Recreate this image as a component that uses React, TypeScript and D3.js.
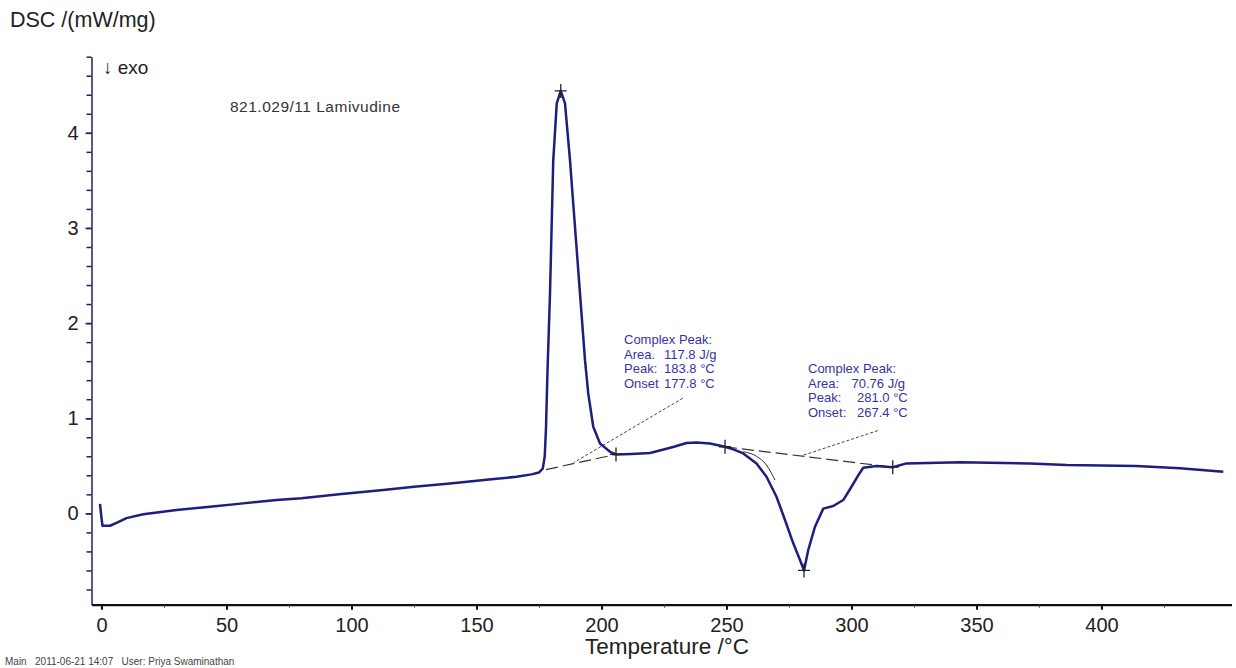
import { useEffect, useRef } from "react";
import * as d3 from "d3";

// DSC trace of 821.029/11 Lamivudine (temperature in °C, DSC in mW/mg)
const temps = [
  -0.6, 0.0, 0.4, 3.4, 6, 10, 16.7, 30, 43.4, 56.7, 70, 80, 95, 112.7, 125, 139.4, 155, 166, 172, 175,
  176.5, 177.3, 177.8, 178.4, 179.4, 180.7, 182.1, 183.7, 185.4, 187.4, 189.4, 191.4, 193.4, 194.7,
  196.7, 199.4, 203.4, 205.8, 212, 219.4, 226, 229, 234, 238, 243.4, 249.4, 253, 256.7, 262, 266, 270,
  273.4, 276.7, 279.4, 281.0, 282.7, 285.4, 288.7, 292.7, 296.7, 300, 302.7, 304.7, 310, 316.5, 322,
  343.4, 371.4, 386, 414, 431.4, 448.7,
];
const dsc = [
  0.1, -0.05, -0.13, -0.13, -0.1, -0.05, -0.01, 0.035, 0.07, 0.105, 0.14, 0.16, 0.2, 0.245, 0.28, 0.315,
  0.355, 0.385, 0.41, 0.43, 0.47, 0.6, 0.9, 1.5, 2.31, 3.71, 4.31, 4.44, 4.31, 3.71, 3.01, 2.31, 1.61,
  1.26, 0.91, 0.735, 0.647, 0.62, 0.625, 0.635, 0.68, 0.7, 0.74, 0.745, 0.735, 0.7, 0.67, 0.63, 0.525,
  0.385, 0.175, -0.07, -0.315, -0.49, -0.6, -0.385, -0.14, 0.05, 0.077, 0.14, 0.28, 0.4, 0.48, 0.497,
  0.485, 0.525, 0.536, 0.525, 0.508, 0.497, 0.473, 0.437,
];

// evaluation marks (+)
const markT = [183.7, 205.8, 249.4, 281.0, 316.5];
const markV = [4.44, 0.62, 0.7, -0.6, 0.485];

// integration baselines [T1, v1, T2, v2]
const baselines = [
  [177.8, 0.46, 205.8, 0.62],
  [249.4, 0.7, 316.5, 0.485],
];
// leader lines from the result boxes
const leaders = [
  [232.5, 1.21, 189.0, 0.535],
  [310.5, 0.87, 280.6, 0.61],
];
// sigmoid tangent of the second peak
const tangentT = [256.7, 262, 266, 269.4];
const tangentV = [0.648, 0.6, 0.508, 0.35];

const xTicks = [0, 50, 100, 150, 200, 250, 300, 350, 400];
const yTicks = [0, 1, 2, 3, 4];

const box1 = [
  ["Complex Peak:", ""],
  ["Area.", "117.8 J/g"],
  ["Peak:", "183.8 °C"],
  ["Onset", "177.8 °C"],
];
const box2 = [
  ["Complex Peak:", ""],
  ["Area:", "70.76 J/g"],
  ["Peak:", "281.0 °C"],
  ["Onset:", "267.4 °C"],
];

const width = 1236;
const height = 668;

export default function App() {
  const ref = useRef<SVGSVGElement>(null);

  useEffect(() => {
    const svg = d3.select(ref.current);
    svg.selectAll("*").remove();

    const x = d3.scaleLinear([-4, 452], [91.5, 1231.5]);
    const y = d3.scaleLinear([-0.96, 4.8], [604.7, 56.7]);

    const font = "Liberation Sans, Arial, sans-serif";

    // y axis with minor ticks every 0.2
    svg.append("g")
        .attr("transform", `translate(${x(-4)},0)`)
        .call(d3.axisLeft(y).tickValues(d3.range(-0.8, 4.81, 0.2)).tickSize(5).tickSizeOuter(0).tickFormat(() => ""))
        .call(g => g.select(".domain").attr("stroke", "#1f1f6e").attr("stroke-width", 1.5))
        .call(g => g.selectAll(".tick line").attr("stroke", "#1f1f6e").attr("stroke-width", 1.5));
    svg.append("g")
        .attr("transform", `translate(${x(-4)},0)`)
        .call(d3.axisLeft(y).tickValues(yTicks).tickSize(6).tickPadding(7).tickSizeOuter(0).tickFormat(d3.format("d")))
        .call(g => g.select(".domain").remove())
        .call(g => g.selectAll(".tick line").attr("stroke", "#1f1f6e").attr("stroke-width", 1.5))
        .call(g => g.selectAll(".tick text").attr("font-family", font).attr("font-size", 20).attr("fill", "#222"));

    // x axis with minor ticks every 25
    svg.append("g")
        .attr("transform", `translate(0,${y(-0.96)})`)
        .call(d3.axisBottom(x).tickValues(d3.range(25, 451, 50)).tickSize(3).tickSizeOuter(0).tickFormat(() => ""))
        .call(g => g.select(".domain").attr("stroke", "#111").attr("stroke-width", 2.2))
        .call(g => g.selectAll(".tick line").attr("stroke", "#444"));
    svg.append("g")
        .attr("transform", `translate(0,${y(-0.96)})`)
        .call(d3.axisBottom(x).tickValues(xTicks).tickSize(5).tickPadding(8).tickSizeOuter(0))
        .call(g => g.select(".domain").remove())
        .call(g => g.selectAll(".tick line").attr("stroke", "#111").attr("stroke-width", 2))
        .call(g => g.selectAll(".tick text").attr("font-family", font).attr("font-size", 20).attr("fill", "#222"));

    // titles
    svg.append("text").attr("x", 10).attr("y", 27).attr("font-family", font).attr("font-size", 21.5)
        .attr("fill", "#222").text("DSC /(mW/mg)");
    svg.append("text").attr("x", 103).attr("y", 74).attr("font-family", font).attr("font-size", 19)
        .attr("fill", "#222").text("↓ exo");
    svg.append("text").attr("x", 585).attr("y", 654).attr("font-family", font).attr("font-size", 22.5)
        .attr("fill", "#222").text("Temperature /°C");
    svg.append("text").attr("x", 230).attr("y", 112).attr("font-family", font).attr("font-size", 15.5)
        .attr("letter-spacing", 0.5).attr("fill", "#333").text("821.029/11 Lamivudine");
    svg.append("text").attr("x", 5).attr("y", 665).attr("font-family", font).attr("font-size", 10)
        .attr("fill", "#444").attr("xml:space", "preserve").text("Main   2011-06-21 14:07   User: Priya Swaminathan");

    // baselines, tangent and leaders
    svg.append("g").selectAll("line").data(baselines).join("line")
        .attr("x1", d => x(d[0])).attr("y1", d => y(d[1]))
        .attr("x2", d => x(d[2])).attr("y2", d => y(d[3]))
        .attr("stroke", "#333").attr("stroke-width", 1.2).attr("stroke-dasharray", "12,5");
    svg.append("g").selectAll("line").data(leaders).join("line")
        .attr("x1", d => x(d[0])).attr("y1", d => y(d[1]))
        .attr("x2", d => x(d[2])).attr("y2", d => y(d[3]))
        .attr("stroke", "#444").attr("stroke-width", 1).attr("stroke-dasharray", "3,2");
    const tline = d3.line<number>().x(d => x(tangentT[d])).y(d => y(tangentV[d])).curve(d3.curveMonotoneX);
    svg.append("path").attr("d", tline(d3.range(tangentT.length)))
        .attr("fill", "none").attr("stroke", "#333").attr("stroke-width", 1);

    // DSC curve
    const line = d3.line<number>().x(i => x(temps[i])).y(i => y(dsc[i]));
    svg.append("path").attr("d", line(d3.range(temps.length)))
        .attr("fill", "none").attr("stroke", "#1e1e7c").attr("stroke-width", 2.5)
        .attr("stroke-linejoin", "round");

    // + marks
    svg.append("g").selectAll("path").data(markT).join("path")
        .attr("d", (d, i) => {
          const cx = x(d), cy = y(markV[i]);
          return `M${cx - 6},${cy}H${cx + 6}M${cx},${cy - 7}V${cy + 7}`;
        })
        .attr("stroke", "#222").attr("stroke-width", 1.3);

    // result boxes
    const boxes = [
      { rows: box1, x0: 624, x1: 664, y0: 344, right: false },
      { rows: box2, x0: 808, x1: 905, y0: 373, right: true },
    ];
    boxes.forEach(b => {
      const g = svg.append("g").attr("font-family", font).attr("font-size", 13).attr("fill", "#3434a4");
      b.rows.forEach((r, i) => {
        g.append("text").attr("x", b.x0).attr("y", b.y0 + i * 14.5).text(r[0]);
        if (r[1]) {
          g.append("text")
              .attr("x", b.right && i === 1 ? b.x1 : b.right ? 857 : b.x1)
              .attr("text-anchor", b.right && i === 1 ? "end" : "start")
              .attr("y", b.y0 + i * 14.5).text(r[1]);
        }
      });
    });
  }, []);

  return (
    <div>
      <svg ref={ref} width={width} height={height}
           style={{ position: "absolute", left: 0, top: 0, background: "#fff" }} />
    </div>
  );
}
